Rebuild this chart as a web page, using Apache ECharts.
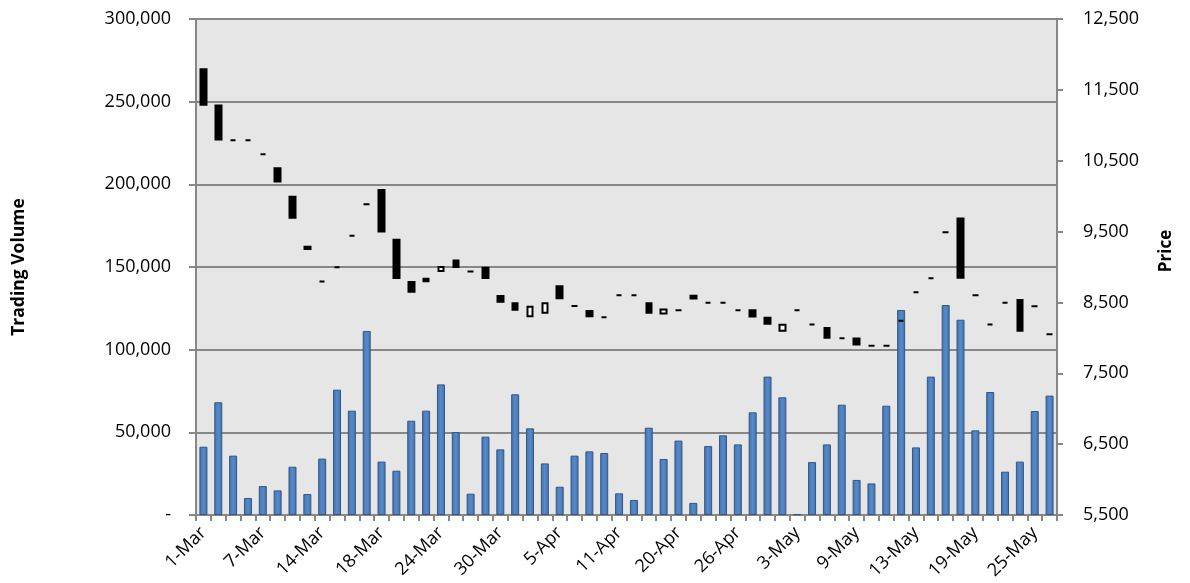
<!DOCTYPE html>
<html>
<head>
<meta charset="utf-8">
<script src="https://cdn.jsdelivr.net/npm/echarts@6/dist/echarts.min.js"></script>
<style>
  html, body { margin: 0; padding: 0; background: #ffffff; }
  #chart { width: 1190px; height: 583px; }
</style>
</head>
<body>
<div id="chart"></div>
<script>
// Trading days (category axis)
const days = [
  '1-Mar', '2-Mar', '3-Mar', '4-Mar', '7-Mar', '8-Mar', '9-Mar', '10-Mar',
  '14-Mar', '15-Mar', '16-Mar', '17-Mar', '18-Mar', '21-Mar', '22-Mar', '23-Mar',
  '24-Mar', '25-Mar', '28-Mar', '29-Mar', '30-Mar', '31-Mar', '1-Apr', '4-Apr',
  '5-Apr', '6-Apr', '7-Apr', '8-Apr', '11-Apr', '12-Apr', '13-Apr', '19-Apr',
  '20-Apr', '21-Apr', '22-Apr', '25-Apr', '26-Apr', '27-Apr', '28-Apr', '2-May',
  '3-May', '4-May', '5-May', '6-May', '9-May', '10-May', '11-May', '12-May',
  '13-May', '16-May', '17-May', '18-May', '19-May', '20-May', '23-May', '24-May',
  '25-May', '26-May'
];

// Daily trading volume
const volume = [
  41300, 68200, 35900, 10300, 17500, 14900, 29200, 12700,
  34100, 75800, 63100, 111300, 32300, 26800, 57000, 63100,
  79000, 50200, 12900, 47400, 39700, 73000, 52400, 31200,
  17100, 35900, 38500, 37500, 13100, 9100, 52800, 33900,
  45000, 7300, 41700, 48200, 42700, 62100, 83700, 71200,
  500, 32000, 42700, 66700, 21200, 19100, 66100, 124000,
  40900, 83700, 127000, 118100, 51200, 74400, 26200, 32300,
  62900, 72200
];

// Opening price
const openPrice = [
  11790, 11280, 10790, 10790, 10590, 10395, 9990, 9285,
  8795, 8995, 9440, 9885, 10085, 9385, 8790, 8835,
  8945, 9090, 8935, 8990, 8590, 8490, 8305, 8355,
  8730, 8450, 8380, 8290, 8600, 8600, 8490, 8345,
  8390, 8595, 8495, 8495, 8390, 8390, 8285, 8100,
  8390, 8190, 8140, 7995, 7990, 7890, 7890, 8240,
  8645, 8840, 9490, 9685, 8600, 8190, 8495, 8535,
  8445, 8050
];

// Closing price
const closePrice = [
  11290, 10800, 10790, 10790, 10590, 10205, 9695, 9255,
  8795, 8995, 9440, 9885, 9500, 8845, 8650, 8800,
  9000, 9000, 8935, 8845, 8510, 8395, 8440, 8490,
  8560, 8450, 8305, 8290, 8600, 8600, 8355, 8400,
  8390, 8555, 8495, 8495, 8390, 8300, 8200, 8185,
  8390, 8190, 8000, 7995, 7905, 7890, 7890, 8240,
  8645, 8840, 9490, 8850, 8600, 8190, 8495, 8100,
  8445, 8050
];

// Left and right axis tick settings
const volumeTicks = { min: 0, max: 300000, interval: 50000 };
const priceTicks = { min: 5500, max: 12500, interval: 1000 };

// Candles are drawn as bodies only: [open, close, low, high]
const candles = openPrice.map((o, i) => {
  const c = closePrice[i];
  return [o, c, Math.min(o, c), Math.max(o, c)];
});

const FONT = '"Open Sans", "Liberation Sans", sans-serif';
const LINE = '#878787';

const chart = echarts.init(document.getElementById('chart'), null, { renderer: 'canvas' });

chart.setOption({
  animation: false,
  backgroundColor: '#ffffff',
  textStyle: { fontFamily: FONT, color: '#000' },
  grid: {
    left: 196, right: 133, top: 19, bottom: 68,
    show: true, backgroundColor: '#e6e6e6', borderWidth: 0
  },
  xAxis: {
    type: 'category',
    data: days,
    boundaryGap: true,
    axisLine: { show: true, lineStyle: { color: LINE, width: 2 } },
    axisTick: { show: true, interval: 0, length: 6, lineStyle: { color: LINE, width: 2 } },
    axisLabel: {
      interval: 3, rotate: 45, margin: 15,
      fontFamily: FONT, fontSize: 18, color: '#000'
    },
    splitLine: { show: false }
  },
  yAxis: [
    {
      type: 'value',
      position: 'left',
      min: volumeTicks.min, max: volumeTicks.max, interval: volumeTicks.interval,
      name: 'Trading Volume',
      nameLocation: 'middle',
      nameGap: 168,
      nameRotate: 90,
      nameTextStyle: { fontFamily: FONT, fontSize: 17.5, fontWeight: 'bold', color: '#000' },
      axisLine: { show: true, lineStyle: { color: LINE, width: 2 } },
      axisTick: { show: true, length: 7, lineStyle: { color: LINE, width: 2 } },
      axisLabel: {
        margin: 25, fontFamily: FONT, fontSize: 18, color: '#000',
        formatter: v => v === 0 ? '-' : v.toLocaleString('en-US')
      },
      splitLine: { show: true, lineStyle: { color: LINE, width: 2 } }
    },
    {
      type: 'value',
      position: 'right',
      min: priceTicks.min, max: priceTicks.max, interval: priceTicks.interval,
      name: 'Price',
      nameLocation: 'middle',
      nameGap: 101,
      nameRotate: 90,
      nameTextStyle: {
        fontFamily: FONT, fontSize: 17, fontWeight: 'bold', color: '#000',
        padding: [0, 0, 0, 32]
      },
      axisLine: { show: true, lineStyle: { color: LINE, width: 2 } },
      axisTick: { show: true, length: 6, lineStyle: { color: LINE, width: 2 } },
      axisLabel: {
        margin: 26, fontFamily: FONT, fontSize: 18, color: '#000',
        formatter: v => v.toLocaleString('en-US')
      },
      splitLine: { show: false }
    }
  ],
  series: [
    {
      name: 'Volume',
      type: 'bar',
      yAxisIndex: 0,
      data: volume,
      barWidth: 8,
      itemStyle: {
        color: new echarts.graphic.LinearGradient(0, 0, 1, 0, [
          { offset: 0, color: '#4272ae' },
          { offset: 0.5, color: '#5889c9' },
          { offset: 1, color: '#4272ae' }
        ]),
        borderColor: '#335884',
        borderWidth: 1
      },
      z: 2
    },
    {
      name: 'Price',
      type: 'candlestick',
      yAxisIndex: 1,
      data: candles,
      barWidth: 6,
      itemStyle: {
        color: '#ffffff',
        color0: '#000000',
        borderColor: '#000000',
        borderColor0: '#000000',
        borderColorDoji: '#000000',
        borderWidth: 2
      },
      z: 3
    }
  ]
});
</script>
</body>
</html>
